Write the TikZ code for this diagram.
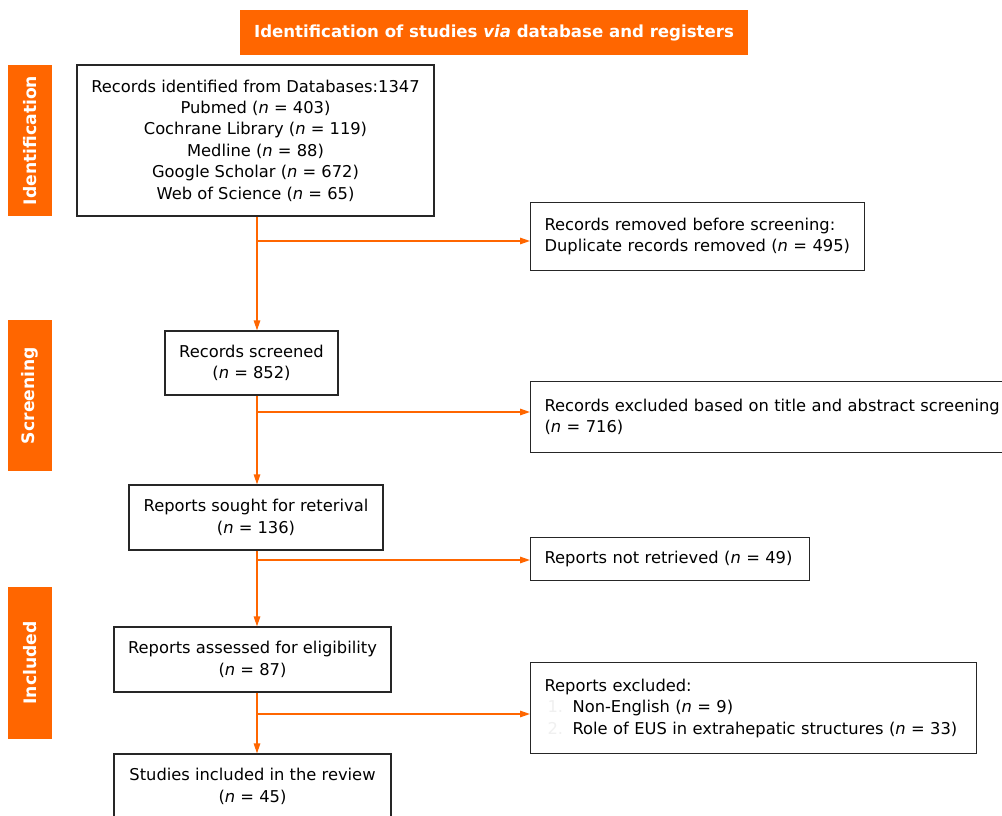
\documentclass[tikz,border=0pt]{standalone}
\usepackage{fontspec}
\setmainfont{DejaVu Sans}
\usepackage{xcolor}
\usetikzlibrary{arrows.meta,positioning}
\definecolor{prisma}{HTML}{FF6600}
\newcommand{\boxfont}{\fontsize{16.3}{21.4}\selectfont}
\newcommand{\faintnum}[1]{\makebox[28pt][l]{\hspace*{3pt}\textcolor{black!6}{#1}}}

\begin{document}
\begin{tikzpicture}[x=1pt,y=-1pt,
    box/.style={draw=black!85, line width=1.2pt, fill=white, inner sep=0pt, align=center, font=\boxfont},
    sidebox/.style={box, align=left, anchor=north west, inner xsep=14pt},
    band/.style={fill=prisma, text=white, inner sep=0pt},
    flow/.style={draw=prisma, line width=1.4pt, -{Triangle[length=10pt,width=6.5pt]}}]
    \useasboundingbox (0,0) rectangle (1002,816);

    % Header and phases
    \node[band, minimum width=508pt, minimum height=45pt, font=\bfseries\fontsize{16.6}{20}\selectfont] (head) at (494,32.5) {Identification of studies \textit{via} database and registers};
    \node[band, rotate=90, minimum width=151pt, minimum height=44pt, font=\bfseries\fontsize{17.2}{20}\selectfont] (phid) at (30,140.5) {Identification};
    \node[band, rotate=90, minimum width=151pt, minimum height=44pt, font=\bfseries\fontsize{17.2}{20}\selectfont] (phscr) at (30,395.5) {Screening};
    \node[band, rotate=90, minimum width=152pt, minimum height=44pt, font=\bfseries\fontsize{17.2}{20}\selectfont] (phinc) at (30,663) {Included};

    % Main flow
    \node[box, minimum width=357pt, minimum height=151pt] (b1) at (255.5,140.5) {Records identified from Databases:1347\\ Pubmed (\textit{n} = 403)\\ Cochrane Library (\textit{n} = 119)\\ Medline (\textit{n} = 88)\\ Google Scholar (\textit{n} = 672)\\ Web of Science (\textit{n} = 65)};
    \node[box, minimum width=173pt, minimum height=64pt] (b2) at (251.5,363) {Records screened\\ (\textit{n} = 852)};
    \node[box, minimum width=254pt, minimum height=65pt] (b3) at (256,517.5) {Reports sought for reterival\\ (\textit{n} = 136)};
    \node[box, minimum width=277pt, minimum height=65pt] (b4) at (252.5,659.5) {Reports assessed for eligibility\\ (\textit{n} = 87)};
    \node[box, minimum width=277pt, minimum height=65pt] (b5) at (252.5,786.5) {Studies included in the review\\ (\textit{n} = 45)};

    % Removed / excluded
    \node[sidebox, minimum height=68pt, text width=306pt] (r1) at (530,202) {Records removed before screening:\\ Duplicate records removed (\textit{n} = 495)};
    \node[sidebox, minimum height=71pt, text width=462pt] (r2) at (530,381) {Records excluded based on title and abstract screening\\ (\textit{n} = 716)};
    \node[sidebox, minimum height=43pt, text width=251pt] (r3) at (530,537) {Reports not retrieved (\textit{n} = 49)};
    \node[sidebox, minimum height=91pt, text width=418pt] (r4) at (530,662) {Reports excluded:\\ \faintnum{1.}Non-English (\textit{n} = 9)\\ \faintnum{2.}Role of EUS in extrahepatic structures (\textit{n} = 33)};

    % Connectors
    \coordinate (trunk) at (257,0);
    \coordinate (j1) at (257,241);
    \coordinate (j2) at (257,412);
    \coordinate (j3) at (257,560);
    \coordinate (j4) at (257,714);
    \draw[flow] (b1.south -| trunk) -- (b2.north -| trunk);
    \draw[flow] (b2.south -| trunk) -- (b3.north -| trunk);
    \draw[flow] (b3.south -| trunk) -- (b4.north -| trunk);
    \draw[flow] (b4.south -| trunk) -- (b5.north -| trunk);
    \draw[flow] (j1) -- (j1 -| r1.west);
    \draw[flow] (j2) -- (j2 -| r2.west);
    \draw[flow] (j3) -- (j3 -| r3.west);
    \draw[flow] (j4) -- (j4 -| r4.west);
\end{tikzpicture}
\end{document}
